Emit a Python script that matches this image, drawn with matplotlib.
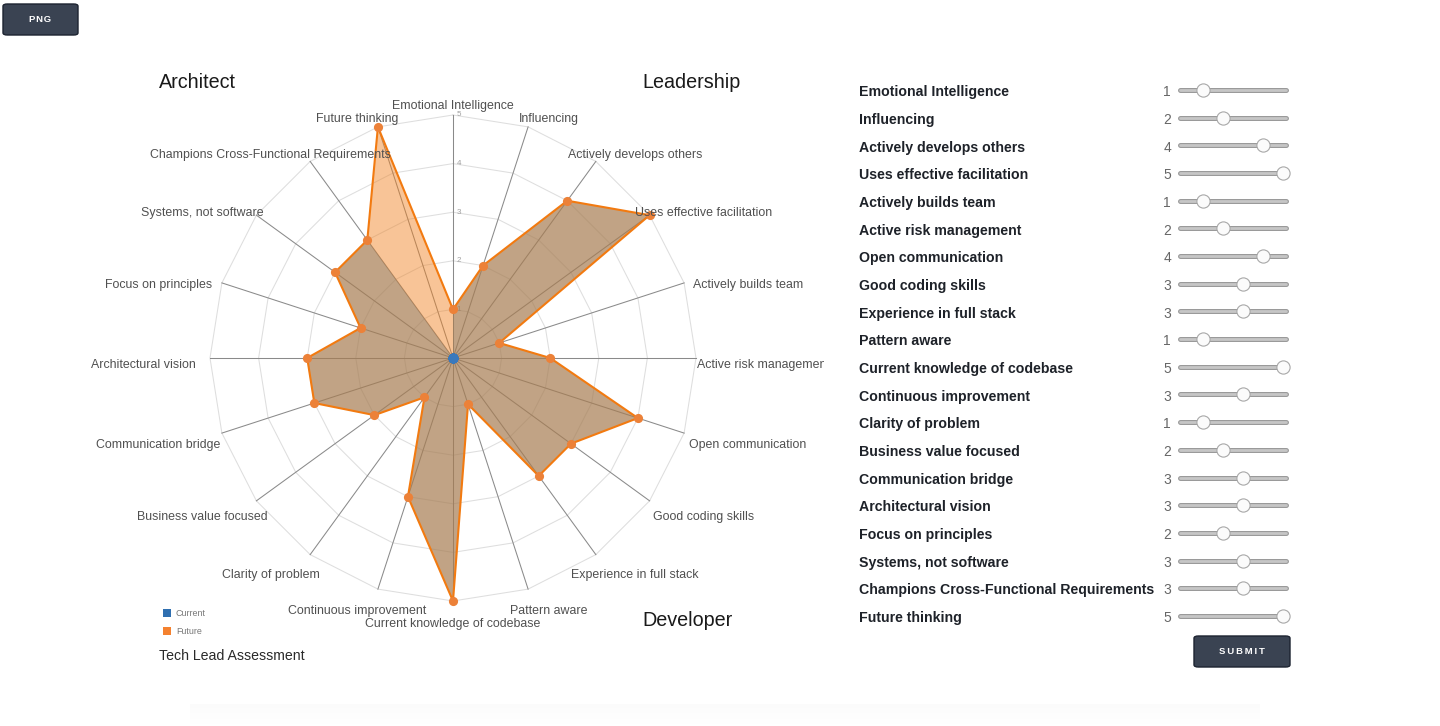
import numpy as np
import matplotlib
matplotlib.use("Agg")
import matplotlib.pyplot as plt
from matplotlib.patches import Polygon, FancyBboxPatch, Rectangle
from matplotlib.transforms import blended_transform_factory

# ---------------- data ----------------
skills = ["Emotional Intelligence", "Influencing", "Actively develops others",
          "Uses effective facilitation", "Actively builds team", "Active risk management",
          "Open communication", "Good coding skills", "Experience in full stack",
          "Pattern aware", "Current knowledge of codebase", "Continuous improvement",
          "Clarity of problem", "Business value focused", "Communication bridge",
          "Architectural vision", "Focus on principles", "Systems, not software",
          "Champions Cross-Functional Requirements", "Future thinking"]
future_values = [1, 2, 4, 5, 1, 2, 4, 3, 3, 1, 5, 3, 1, 2, 3, 3, 2, 3, 3, 5]
current_values = [0] * 20
levels = [1, 2, 3, 4, 5]
legend_labels = ["Current", "Future"]
group_titles = ["Architect", "Leadership", "Developer"]
chart_title = "Tech Lead Assessment"

plt.rcParams['font.family'] = ['Liberation Sans', 'DejaVu Sans']

W, H = 1440, 726
fig = plt.figure(figsize=(W / 100, H / 100), dpi=100)
fig.patch.set_facecolor("white")

def fx(px):
    return px / W

def fy(py):
    return 1 - py / H

# ---------------- radar ----------------
s = 48.6  # px per unit
cxp, cyp = 453, 358
left, right, top, bottom = 80, 824, 58, 690
ax = fig.add_axes([fx(left), fy(bottom), (right - left) / W, (bottom - top) / H])
ax.set_xlim(-(cxp - left) / s, (right - cxp) / s)
ax.set_ylim(-(bottom - cyp) / s, (cyp - top) / s)
ax.axis("off")

n = len(skills)
theta = np.arange(n) * 2 * np.pi / n
sx, cy = np.sin(theta), np.cos(theta)
rmax = max(levels)

# grid polygons
for lv in levels:
    xs = np.append(lv * sx, lv * sx[0])
    ys = np.append(lv * cy, lv * cy[0])
    ax.plot(xs, ys, color="#dedede", lw=0.75, zorder=1)
# axis lines
for i in range(n):
    ax.plot([0, rmax * sx[i]], [0, rmax * cy[i]], color="#8a8a8a", lw=0.75, zorder=2)
# tick labels
for lv in levels:
    ax.text(0.07, lv + 0.0, str(lv), fontsize=5.8, color="#a0a0a0",
            ha="left", va="center", zorder=3)

fv = np.array(future_values, dtype=float)
fxv, fyv = fv * sx, fv * cy

# blue underlay (current area artefact)
blue_pts = [(0, 0)] + list(zip(fxv[:-1], fyv[:-1]))
ax.add_patch(Polygon(blue_pts, closed=True, facecolor="#1f77b4", alpha=0.45,
                     edgecolor="none", zorder=3))
# future area
ax.add_patch(Polygon(list(zip(fxv, fyv)), closed=True, facecolor="#f0801e",
                     alpha=0.46, edgecolor="none", zorder=4))
ax.plot(np.append(fxv, fxv[0]), np.append(fyv, fyv[0]), color="#f27a10",
        lw=1.5, zorder=5, solid_joinstyle="miter")
ax.plot(fxv, fyv, "o", color="#ec8138", markersize=6.6, mec="none", zorder=6)

cv = np.array(current_values, dtype=float)
ax.plot(cv * sx, cv * cy, "o", color="#3a79bd", markersize=7, mec="none", zorder=7)

# axis labels
Rx, Ry, dy = 310 / s, 259 / s, -7 / s
for i, lab in enumerate(skills):
    ax.text(Rx * sx[i], Ry * cy[i] + dy, lab, fontsize=8.9, color="#505050",
            ha="center", va="center", clip_on=True, zorder=8)

# group titles
fig.text(fx(159), fy(83), group_titles[0], fontsize=14.2, color="#1a1a1a", va="center")
fig.text(fx(642), fy(83), group_titles[1], fontsize=14.2, color="#1a1a1a", va="center")
fig.text(fx(642), fy(620), group_titles[2], fontsize=14.2, color="#1a1a1a", va="center")
fig.text(fx(159), fy(656), chart_title, fontsize=10.2, color="#2a2a2a", va="center")

# legend
leg_colors = ["#2f6fb0", "#f4812f"]
for k, (lab, col) in enumerate(zip(legend_labels, leg_colors)):
    yc = 613 + 18 * k
    fig.patches.append(Rectangle((fx(163), fy(yc + 4)), 8 / W, 8 / H,
                                 transform=fig.transFigure, facecolor=col,
                                 edgecolor="none"))
    fig.text(fx(176), fy(yc), lab, fontsize=6.4, color="#777777", va="center")

# ---------------- sliders ----------------
sl_left, sl_right, sl_top, sl_bot = 1170, 1296, 75, 632
v0, step = 1183, 20.0
row0, rstep = 90, 27.68
axs = fig.add_axes([fx(sl_left), fy(sl_bot), (sl_right - sl_left) / W, (sl_bot - sl_top) / H])
axs.set_xlim((sl_left - v0) / step, (sl_right - v0) / step)
axs.set_ylim((sl_bot - row0) / rstep, (sl_top - row0) / rstep)
axs.axis("off")

rows = np.arange(n)
for i in rows:
    axs.plot([-0.15, 5.15], [i, i], color="#9a9a9a", lw=3.6, solid_capstyle="round", zorder=1)
    axs.plot([-0.15, 5.15], [i, i], color="#c6c6c6", lw=2.0, solid_capstyle="round", zorder=2)
axs.plot(fv, rows, "o", markersize=9.5, markerfacecolor="#fbfbfb",
         markeredgecolor="#a8a8a8", markeredgewidth=0.8, zorder=3)

tr = blended_transform_factory(fig.transFigure, axs.transData)
for i, lab in enumerate(skills):
    fig.text(fx(859), i + 0.08, lab, transform=tr, fontsize=10.2, fontweight="bold",
             color="#1e2229", va="center", ha="left")
    fig.text(fx(1171), i + 0.08, str(future_values[i]), transform=tr, fontsize=10,
             color="#666666", va="center", ha="right")

# ---------------- buttons ----------------
def button(x0, y0, x1, y1, label):
    p = FancyBboxPatch((fx(x0), fy(y1)), (x1 - x0) / W, (y1 - y0) / H,
                       boxstyle="round,pad=0,rounding_size=0.003",
                       transform=fig.transFigure, facecolor="#3a4352",
                       edgecolor="#1c2330", linewidth=1.0)
    fig.patches.append(p)
    fig.text(fx((x0 + x1) / 2), fy((y0 + y1) / 2), label, fontsize=6.8,
             fontweight="bold", color="white", ha="center", va="center",
             family=['Liberation Sans', 'DejaVu Sans'])

button(3, 4, 78, 35, "P\u200aN\u200aG")
button(1194, 636, 1290, 667, "S\u2009U\u2009B\u2009M\u2009I\u2009T")

# subtle bottom shadow
axb = fig.add_axes([fx(190), 0, (1260 - 190) / W, 22 / H])
grad = np.linspace(1.0, 0.0, 50).reshape(-1, 1)
axb.imshow(grad, aspect="auto", cmap="Greys", vmin=0, vmax=30, extent=[0, 1, 0, 1])
axb.axis("off")

fig.savefig("out.png", dpi=100, facecolor="white")
